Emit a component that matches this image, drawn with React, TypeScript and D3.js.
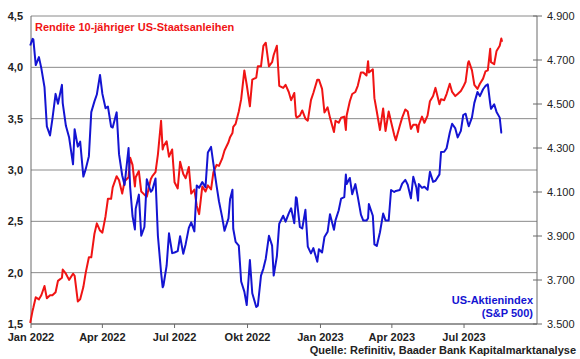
import React from "react";
import * as d3 from "d3";

const dates = [
  "2021-12-31", "2022-01-03", "2022-01-04", "2022-01-07", "2022-01-11", "2022-01-14", "2022-01-18", "2022-01-21", "2022-01-25", "2022-01-28",
  "2022-02-01", "2022-02-04", "2022-02-09", "2022-02-10", "2022-02-14", "2022-02-18", "2022-02-23", "2022-02-25",
  "2022-03-01", "2022-03-04", "2022-03-08", "2022-03-11", "2022-03-15", "2022-03-18", "2022-03-22", "2022-03-25", "2022-03-29",
  "2022-04-01", "2022-04-05", "2022-04-08", "2022-04-12", "2022-04-14", "2022-04-19", "2022-04-22", "2022-04-26", "2022-04-29",
  "2022-05-04", "2022-05-06", "2022-05-09", "2022-05-12", "2022-05-13", "2022-05-17", "2022-05-20", "2022-05-24", "2022-05-27",
  "2022-06-01", "2022-06-03", "2022-06-07", "2022-06-10", "2022-06-14", "2022-06-16", "2022-06-17", "2022-06-21", "2022-06-24", "2022-06-28",
  "2022-07-01", "2022-07-05", "2022-07-08", "2022-07-12", "2022-07-15", "2022-07-19", "2022-07-22", "2022-07-26", "2022-07-29",
  "2022-08-01", "2022-08-05", "2022-08-09", "2022-08-12", "2022-08-16", "2022-08-19", "2022-08-23", "2022-08-26", "2022-08-30",
  "2022-09-02", "2022-09-07", "2022-09-09", "2022-09-12", "2022-09-13", "2022-09-16", "2022-09-20", "2022-09-23", "2022-09-27", "2022-09-30",
  "2022-10-04", "2022-10-07", "2022-10-12", "2022-10-14", "2022-10-18", "2022-10-21", "2022-10-24", "2022-10-28",
  "2022-11-01", "2022-11-03", "2022-11-07", "2022-11-10", "2022-11-15", "2022-11-18", "2022-11-22", "2022-11-25", "2022-11-29",
  "2022-12-01", "2022-12-02", "2022-12-06", "2022-12-09", "2022-12-13", "2022-12-16", "2022-12-20", "2022-12-23", "2022-12-28", "2022-12-30",
  "2023-01-03", "2023-01-06", "2023-01-10", "2023-01-13", "2023-01-18", "2023-01-20", "2023-01-24", "2023-01-27", "2023-01-31",
  "2023-02-02", "2023-02-03", "2023-02-07", "2023-02-10", "2023-02-14", "2023-02-17", "2023-02-21", "2023-02-24", "2023-02-28",
  "2023-03-02", "2023-03-03", "2023-03-08", "2023-03-10", "2023-03-13", "2023-03-17", "2023-03-21", "2023-03-24", "2023-03-28", "2023-03-31",
  "2023-04-04", "2023-04-06", "2023-04-11", "2023-04-14", "2023-04-18", "2023-04-21", "2023-04-25", "2023-04-28",
  "2023-05-02", "2023-05-04", "2023-05-05", "2023-05-09", "2023-05-12", "2023-05-16", "2023-05-19", "2023-05-23", "2023-05-26", "2023-05-31",
  "2023-06-02", "2023-06-06", "2023-06-09", "2023-06-13", "2023-06-16", "2023-06-20", "2023-06-23", "2023-06-27", "2023-06-30",
  "2023-07-03", "2023-07-06", "2023-07-07", "2023-07-11", "2023-07-14", "2023-07-18", "2023-07-21", "2023-07-25", "2023-07-28", "2023-07-31",
  "2023-08-03", "2023-08-04", "2023-08-08", "2023-08-11", "2023-08-15", "2023-08-17", "2023-08-18",
];

const yields = [
  1.51, 1.63, 1.66, 1.76, 1.74, 1.78, 1.87, 1.75, 1.78, 1.78,
  1.81, 1.92, 1.95, 2.03, 1.99, 1.93, 1.99, 1.97,
  1.72, 1.74, 1.86, 2.0, 2.15, 2.15, 2.38, 2.48, 2.41,
  2.39, 2.55, 2.72, 2.72, 2.83, 2.94, 2.9, 2.77, 2.89,
  2.93, 3.12, 3.05, 2.84, 2.93, 2.99, 2.79, 2.76, 2.74,
  2.91, 2.94, 2.98, 3.15, 3.48, 3.2, 3.23, 3.28, 3.13, 3.2,
  2.88, 2.82, 3.08, 2.96, 2.92, 3.03, 2.77, 2.81, 2.65,
  2.57, 2.84, 2.79, 2.85, 2.81, 2.98, 3.05, 3.04, 3.11,
  3.19, 3.27, 3.32, 3.36, 3.42, 3.45, 3.57, 3.69, 3.97, 3.83,
  3.62, 3.88, 3.9, 4.01, 4.01, 4.21, 4.24, 4.01,
  4.05, 4.12, 4.21, 3.82, 3.8, 3.83, 3.76, 3.68, 3.75,
  3.53, 3.51, 3.53, 3.58, 3.5, 3.48, 3.68, 3.75, 3.88, 3.88,
  3.79, 3.56, 3.61, 3.51, 3.37, 3.48, 3.46, 3.51, 3.52,
  3.39, 3.53, 3.67, 3.74, 3.76, 3.82, 3.95, 3.95, 3.92,
  4.06, 3.95, 3.98, 3.7, 3.57, 3.39, 3.6, 3.38, 3.57, 3.47,
  3.34, 3.29, 3.43, 3.51, 3.59, 3.57, 3.4, 3.44,
  3.44, 3.37, 3.44, 3.52, 3.46, 3.53, 3.67, 3.72, 3.8, 3.64,
  3.69, 3.68, 3.74, 3.84, 3.76, 3.72, 3.74, 3.77, 3.81,
  3.86, 4.04, 4.06, 3.97, 3.83, 3.79, 3.84, 3.89, 3.96, 3.97,
  4.18, 4.05, 4.03, 4.16, 4.21, 4.28, 4.25,
];

const sp500 = [
  4766, 4796, 4793, 4677, 4713, 4663, 4577, 4398, 4357, 4432,
  4546, 4501, 4587, 4504, 4401, 4349, 4226, 4385,
  4306, 4329, 4170, 4204, 4263, 4463, 4512, 4543, 4632,
  4546, 4481, 4488, 4397, 4393, 4462, 4272, 4175, 4132,
  4300, 4123, 3991, 3930, 4024, 4088, 3901, 3941, 4158,
  4101, 4109, 4161, 3901, 3735, 3667, 3675, 3765, 3912, 3822,
  3825, 3831, 3899, 3819, 3863, 3937, 3962, 3921, 4130,
  4119, 4145, 4122, 4280, 4305, 4228, 4128, 4058, 3986,
  3924, 3980, 4067, 4110, 3933, 3873, 3856, 3693, 3647, 3586,
  3791, 3640, 3577, 3583, 3720, 3752, 3797, 3901,
  3856, 3720, 3807, 3956, 3992, 3965, 4003, 4026, 3958,
  4076, 4072, 3941, 3934, 4019, 3852, 3821, 3845, 3783, 3840,
  3825, 3895, 3919, 3999, 3928, 3972, 4017, 4070, 4077,
  4179, 4136, 4164, 4090, 4136, 4079, 3997, 3970, 3970,
  3981, 4045, 3992, 3862, 3855, 3917, 4002, 3971, 3971, 4109,
  4100, 4105, 4109, 4138, 4155, 4133, 4071, 4169,
  4119, 4061, 4136, 4119, 4124, 4110, 4192, 4146, 4151, 4180,
  4282, 4283, 4299, 4369, 4410, 4389, 4348, 4378, 4450,
  4456, 4411, 4399, 4439, 4505, 4555, 4536, 4567, 4582, 4589,
  4502, 4478, 4499, 4464, 4438, 4370, 4370,
];

const leftTicks = [1.5, 2.0, 2.5, 3.0, 3.5, 4.0, 4.5];
const rightTicks = [3500, 3700, 3900, 4100, 4300, 4500, 4700, 4900];
const xTickDates = ["2022-01-01", "2022-04-01", "2022-07-01", "2022-10-01", "2023-01-01", "2023-04-01", "2023-07-01"];
const xTickLabels = ["Jan 2022", "Apr 2022", "Jul 2022", "Okt 2022", "Jan 2023", "Apr 2023", "Jul 2023"];
const xDomain = ["2022-01-01", "2023-10-01"];
const yieldTitle = "Rendite 10-jähriger US-Staatsanleihen";
const spTitle = ["US-Aktienindex", "(S&P 500)"];
const sourceText = "Quelle: Refinitiv, Baader Bank Kapitalmarktanalyse";

const W = 580;
const H = 359;
const L = 31;
const R = 537;
const T = 16;
const B = 324;
const FONT = "'Liberation Sans', Arial, sans-serif";
const RED = "#f01414";
const BLUE = "#1414d2";

const de = d3.formatLocale({ decimal: ",", thousands: ".", grouping: [3], currency: ["", " €"] });
const fmtLeft = de.format(".1f");
const en = d3.formatLocale({ decimal: ",", thousands: ".", grouping: [3], currency: ["", ""] });
const fmtRight = en.format(",d");

export default function App() {
  const parse = d3.timeParse("%Y-%m-%d");
  const pts = dates.map((d, i) => ({ date: parse(d) as Date, y: yields[i], s: sp500[i] }));
  const x = d3.scaleTime().domain(xDomain.map((d) => parse(d) as Date)).range([L, R]);
  const yL = d3.scaleLinear().domain([1.5, 4.5]).range([B, T]);
  const yR = d3.scaleLinear().domain([3500, 4900]).range([B, T]);

  const lineY = d3.line<any>().x((d) => x(d.date)).y((d) => yL(d.y)).curve(d3.curveLinear);
  const lineS = d3.line<any>().x((d) => x(d.date)).y((d) => yR(d.s)).curve(d3.curveLinear);

  const gridColor = "#8a8a8a";
  const axisColor = "#6a6a6a";

  return (
    <svg
      width={W}
      height={H}
      viewBox={`0 0 ${W} ${H}`}
      style={{ position: "absolute", left: 0, top: 0, background: "#fff" }}
      fontFamily={FONT}
    >
      <rect x={0} y={0} width={W} height={H} fill="#fff" />
      {leftTicks.map((t) => (
        <line key={"g" + t} x1={L} x2={R} y1={yL(t)} y2={yL(t)} stroke={gridColor} strokeWidth={1} />
      ))}
      <line x1={L} x2={L} y1={T} y2={B} stroke={axisColor} strokeWidth={1} />
      <line x1={R} x2={R} y1={T} y2={B} stroke={axisColor} strokeWidth={1} />
      <line x1={L} x2={R} y1={B} y2={B} stroke={axisColor} strokeWidth={1} />
      {xTickDates.map((d) => (
        <line key={"xt" + d} x1={x(parse(d) as Date)} x2={x(parse(d) as Date)} y1={B} y2={B + 4} stroke={axisColor} strokeWidth={1} />
      ))}
      {rightTicks.map((t) => (
        <line key={"rt" + t} x1={R - 4} x2={R + 5} y1={yR(t)} y2={yR(t)} stroke={axisColor} strokeWidth={1} />
      ))}
      {leftTicks.map((t) => (
        <text key={"lt" + t} x={23} y={yL(t)} dy="0.35em" textAnchor="end" fontSize={11} fontWeight="bold" fill="#222">
          {fmtLeft(t)}
        </text>
      ))}
      {rightTicks.map((t) => (
        <text key={"rl" + t} x={547} y={yR(t)} dy="0.35em" textAnchor="start" fontSize={11} fill="#222">
          {fmtRight(t)}
        </text>
      ))}
      {xTickDates.map((d, i) => (
        <text key={"xl" + d} x={x(parse(d) as Date)} y={341} textAnchor="middle" fontSize={11} fontWeight="bold" fill="#222">
          {xTickLabels[i]}
        </text>
      ))}
      <path d={lineY(pts) || ""} fill="none" stroke={RED} strokeWidth={2} strokeLinejoin="round" />
      <path d={lineS(pts) || ""} fill="none" stroke={BLUE} strokeWidth={2} strokeLinejoin="round" />
      <text x={35} y={31} fontSize={11} fontWeight="bold" fill={RED}>
        {yieldTitle}
      </text>
      <text x={533} y={304} textAnchor="end" fontSize={11} fontWeight="bold" fill={BLUE}>
        {spTitle[0]}
      </text>
      <text x={533} y={317} textAnchor="end" fontSize={11} fontWeight="bold" fill={BLUE}>
        {spTitle[1]}
      </text>
      <text x={576} y={354} textAnchor="end" fontSize={11} fontWeight="bold" fill="#222">
        {sourceText}
      </text>
    </svg>
  );
}
